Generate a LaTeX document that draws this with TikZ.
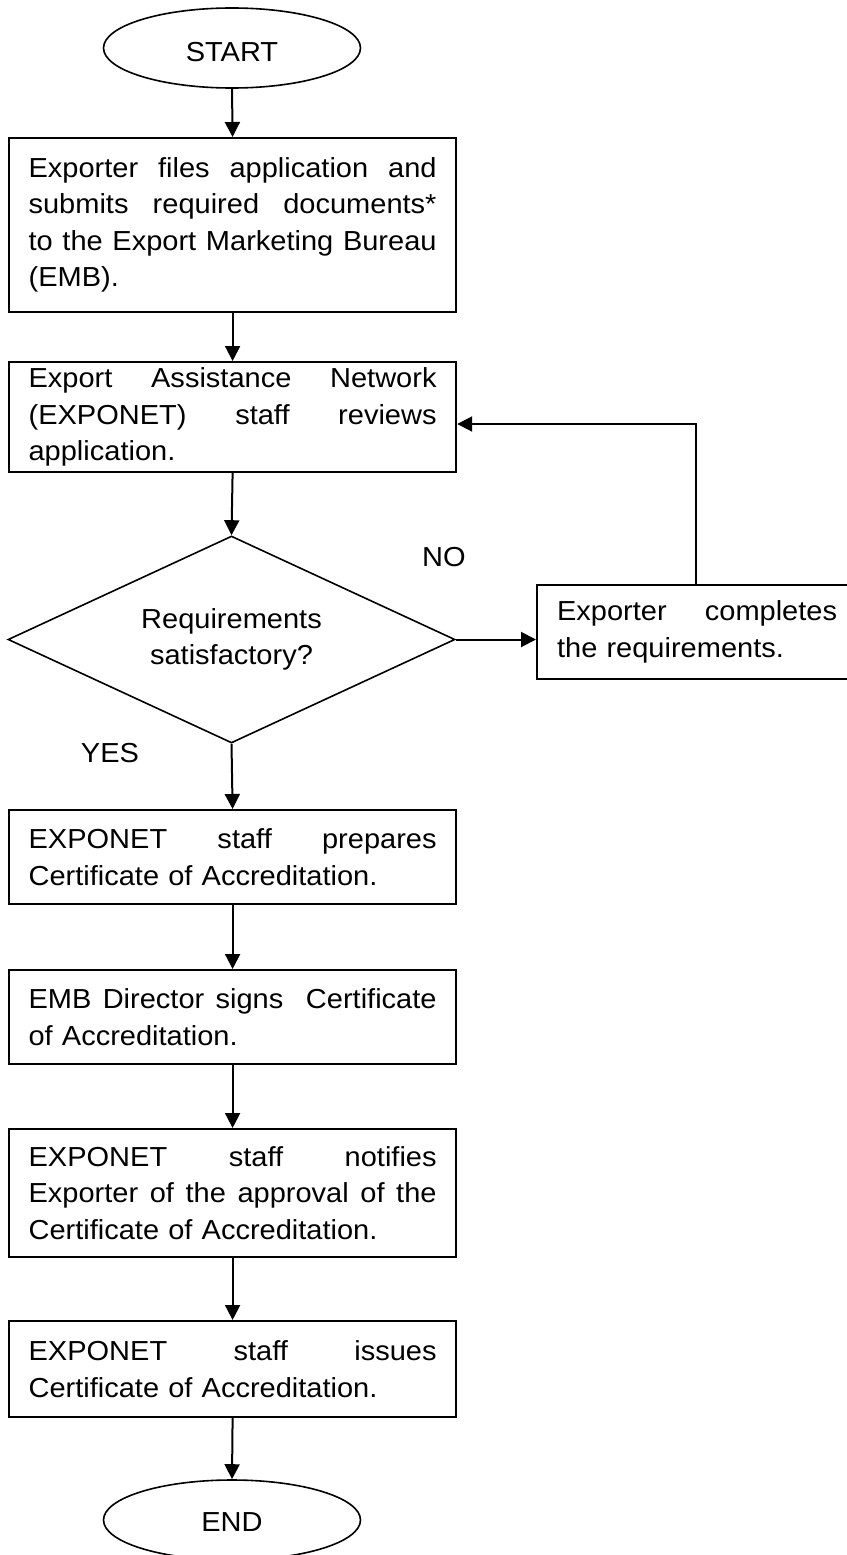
\documentclass[tikz,border=0pt]{standalone}
\usepackage{fontspec}
\setmainfont{Liberation Sans}[FakeStretch=1.055]
\usetikzlibrary{arrows.meta,shapes.geometric}
\newcommand\jl[2]{\leavevmode\makebox[#1][l]{#2}\\}
\begin{document}
\begin{tikzpicture}[x=1pt,y=-1pt,
  txt/.style={font=\fontsize{27.5}{36.5}\selectfont},
  box/.style={txt, draw, line width=2.2pt, minimum width=447pt, text width=408pt,
    inner xsep=0pt, inner ysep=0pt, align=left, anchor=north west},
  term/.style={txt, draw, ellipse, line width=1.6pt, minimum width=257pt, minimum height=80pt, inner sep=0pt},
  decision/.style={txt, draw, diamond, aspect=2.16, line width=1.6pt, minimum width=447pt, minimum height=207pt,
    inner sep=0pt, align=center},
  arr/.style={line width=2pt, -{Triangle[length=15pt,width=15pt]}},
  lbl/.style={txt, inner sep=0pt}]
\useasboundingbox (0,0) rectangle (846,1555);
\fill[white] (0,0) rectangle (846,1555);

\node[term] (start) at (232,48) {\raisebox{-4pt}[\height][\depth]{START}};

\node[box, minimum height=174pt] (b1) at (8,137) {%
\jl{408pt}{Exporter\hfill files\hfill application\hfill and}%
\jl{408pt}{submits\hfill required\hfill documents*}%
\jl{408pt}{to\hfill the\hfill Export\hfill Marketing\hfill Bureau}%
(EMB).};

\node[box, minimum height=110pt] (b2) at (8,361) {%
\jl{408pt}{Export\hfill Assistance\hfill Network}%
\jl{408pt}{(EXPONET)\hfill staff\hfill reviews}%
application.};

\node[decision] (dec) at (231.5,639.5) {Requirements\\satisfactory?};

\node[box, minimum width=320pt, text width=280pt, minimum height=94pt] (side) at (536,584) {%
\jl{280pt}{Exporter\hfill completes}%
the requirements.};

\node[box, minimum height=94pt] (b3) at (8,809) {%
\jl{408pt}{EXPONET\hfill staff\hfill prepares}%
Certificate of Accreditation.};

\node[box, minimum height=94pt] (b4) at (8,969) {%
\jl{408pt}{EMB\hfill Director\hfill signs\hfill\hfill Certificate}%
of Accreditation.};

\node[box, minimum height=128pt] (b5) at (8,1128) {%
\jl{408pt}{EXPONET\hfill staff\hfill notifies}%
\jl{408pt}{Exporter\hfill of\hfill the\hfill approval\hfill of\hfill the}%
Certificate of Accreditation.};

\node[box, minimum height=96pt] (b6) at (8,1320) {%
\jl{408pt}{EXPONET\hfill staff\hfill issues}%
Certificate of Accreditation.};

\node[term] (end) at (232,1520) {\raisebox{-2pt}[\height][\depth]{END}};

\node[lbl] (no) at (444,557) {NO};
\node[lbl] (yes) at (110,753) {YES};

\coordinate (fb) at (696,424);

\draw[arr] (start.south) -- (b1.north);
\draw[arr] (b1.south) -- (b2.north);
\draw[arr] (b2.south) -- (dec.north);
\draw[arr] (dec.east) -- (dec.east -| side.west);
\draw[arr] (side.north -| fb) -- (fb) -- (b2.east |- fb);
\draw[arr] (dec.south) -- (b3.north);
\draw[arr] (b3.south) -- (b4.north);
\draw[arr] (b4.south) -- (b5.north);
\draw[arr] (b5.south) -- (b6.north);
\draw[arr] (b6.south) -- (end.north);
\end{tikzpicture}
\end{document}
